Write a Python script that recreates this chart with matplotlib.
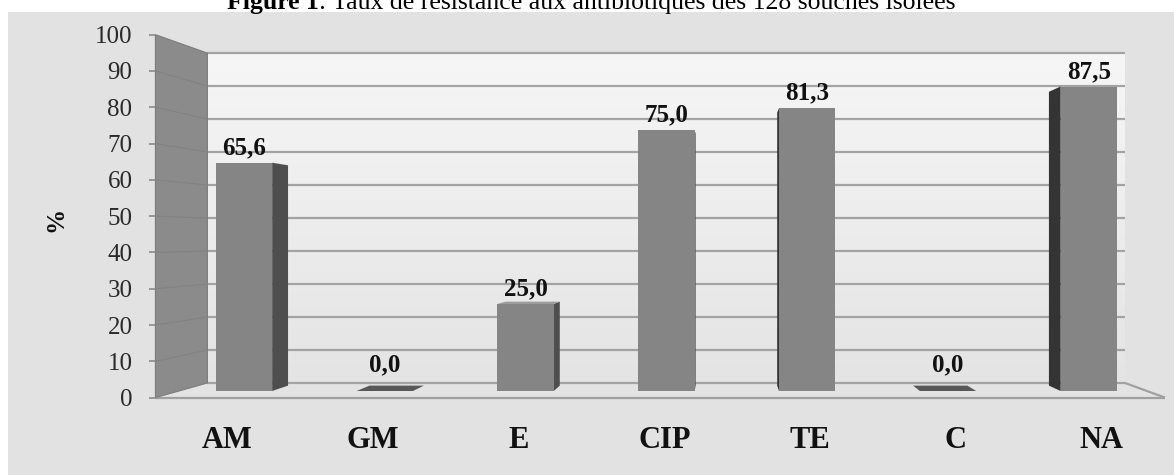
import matplotlib
matplotlib.use("Agg")
import matplotlib.pyplot as plt
from matplotlib.patches import Polygon, Rectangle
from matplotlib.colors import LinearSegmentedColormap
import numpy as np

# ---- data -------------------------------------------------------------
categories = ["AM", "GM", "E", "CIP", "TE", "C", "NA"]
resistance = [65.6, 0.0, 25.0, 75.0, 81.3, 0.0, 87.5]
y_ticks = [0, 10, 20, 30, 40, 50, 60, 70, 80, 90, 100]

title_bold = "Figure 1"
title_rest = ": Taux de résistance aux antibiotiques des 128 souches isolées"
y_label = "%"

# ---- layout -----------------------------------------------------------
W, H, DPI = 1174, 475, 100
SERIF = ["Liberation Serif", "DejaVu Serif"]

# bar plane: one category step = 140.8 px, one percent = 3.48 px
X0_PX, X_STEP = 244.0, 140.8
Y0_PX, Y_STEP = 391.0, 3.48

# pseudo-3D: every depth plane is a uniform scaling about a vanishing point
VX, VY = 3.423, 44.25
S_BACK, S_FRONT = 0.948, 1.043
S_BAR_BACK = 0.965
S_LABEL = 1.035
X_LEFT, X_RIGHT = -0.462, 6.413
Y_TOP = 100
BAR_HALF = 0.2
CAT_Y = (Y0_PX - 441) / Y_STEP


def proj(x, y, s):
    x = np.asarray(x, float)
    y = np.asarray(y, float)
    return VX + s * (x - VX), VY + s * (y - VY)


def pt(x, y, s):
    px, py = proj(x, y, s)
    return (float(px), float(py))


fig = plt.figure(figsize=(W / DPI, H / DPI), dpi=DPI)
fig.patch.set_facecolor("white")
ax = fig.add_axes([0, 0, 1, 1])
ax.set_axis_off()

# grey chart panel
ax.add_patch(Rectangle((8 / W, 0), 1 - 8 / W, (H - 12) / H,
                       transform=fig.transFigure, fc="#e2e2e2", ec="none",
                       zorder=-10))

# back wall with a soft vertical gradient
bx0, by0 = proj(X_LEFT, 0, S_BACK)
bx1, by1 = proj(X_RIGHT, Y_TOP, S_BACK)
grad = np.linspace(0, 1, 256).reshape(-1, 1)
wall_cmap = LinearSegmentedColormap.from_list("wall", ["#e4e4e4", "#f6f6f6"])
ax.imshow(grad, extent=(float(bx0), float(bx1), float(by0), float(by1)),
          origin="lower", cmap=wall_cmap, aspect="auto", zorder=0,
          interpolation="bilinear")

# floor
floor = [pt(X_LEFT, 0, S_FRONT), pt(X_RIGHT, 0, S_FRONT),
         pt(X_RIGHT, 0, S_BACK), pt(X_LEFT, 0, S_BACK)]
ax.add_patch(Polygon(floor, closed=True, fc="#e3e3e3", ec="none", zorder=0.8))

# gridlines on the back wall
for t in y_ticks:
    gx, gy = proj([X_LEFT, X_RIGHT], [t, t], S_BACK)
    ax.plot(gx, gy, color="#a3a3a3", lw=1.6, zorder=1, solid_capstyle="butt")

# floor edges
fx, fy = proj([X_LEFT, X_RIGHT], [0, 0], S_FRONT)
ax.plot(fx, fy, color="#a0a0a0", lw=1.6, zorder=1, solid_capstyle="butt")
rx, ry = proj([X_RIGHT, X_RIGHT], [0, 0], [S_BACK, S_FRONT])
ax.plot(rx, ry, color="#a0a0a0", lw=1.6, zorder=1, solid_capstyle="butt")

# left wall
wall = [pt(X_LEFT, 0, S_FRONT), pt(X_LEFT, Y_TOP, S_FRONT),
        pt(X_LEFT, Y_TOP, S_BACK), pt(X_LEFT, 0, S_BACK)]
ax.add_patch(Polygon(wall, closed=True, fc="#8b8b8b", ec="#7c7c7c", lw=0.8,
                     zorder=2))
for t in y_ticks[1:-1]:
    wx, wy = proj([X_LEFT, X_LEFT], [t, t], [S_FRONT, S_BACK])
    ax.plot(wx, wy, color="#828282", lw=0.8, zorder=2.1)

# bars: side faces, top faces, then front faces
x = np.arange(len(categories))
vals = np.array(resistance, dtype=float)
for xi, v in zip(x, vals):
    left, right = xi - BAR_HALF, xi + BAR_HALF
    if right < VX:
        edge, side_col = right, "#4e4e4e"
    elif left > VX:
        edge, side_col = left, "#343434"
    else:
        edge = None
    if edge is not None and v > 0:
        side = [pt(edge, 0, 1), pt(edge, v, 1),
                pt(edge, v, S_BAR_BACK), pt(edge, 0, S_BAR_BACK)]
        ax.add_patch(Polygon(side, closed=True, fc=side_col, ec="none",
                             zorder=3))
    if v < VY:
        top = [pt(left, v, 1), pt(right, v, 1),
               pt(right, v, S_BAR_BACK), pt(left, v, S_BAR_BACK)]
        top_col = "#585858" if v == 0 else "#9c9c9c"
        ax.add_patch(Polygon(top, closed=True, fc=top_col, ec="none",
                             zorder=3))

ax.bar(x, vals, width=2 * BAR_HALF, color="#858585", zorder=4)

# value labels
for xi, v in zip(x, vals):
    off = 26 if v == 0 else 15
    ax.annotate(f"{v:.1f}".replace(".", ","), (xi, v), xytext=(0, off),
                textcoords="offset pixels", ha="center", va="center",
                fontsize=18, fontweight="bold", family=SERIF,
                color="#111111", zorder=6)

# category labels on the front plane
lx, _ = proj(x, np.zeros(len(x)), S_LABEL)
for xx, c in zip(lx, categories):
    ax.text(float(xx), CAT_Y, c, ha="center", va="center", fontsize=22,
            fontweight="bold", family=SERIF, color="#111111")

# value axis: ticks and labels on the front edge of the left wall
tx, ty = proj(np.full(len(y_ticks), X_LEFT), y_ticks, S_FRONT)
ax.plot(tx, ty, ls="none", marker=0, ms=4.5, mew=1.2, color="#8a8a8a",
        zorder=5)
for xx, yy, t in zip(tx, ty, y_ticks):
    ax.annotate(str(t), (float(xx), float(yy)), xytext=(-23, 0),
                textcoords="offset pixels", ha="right", va="center_baseline",
                fontsize=18, family=SERIF, color="#2a2a2a")

fig.text(56 / W, 1 - 219 / H, y_label, rotation=90, ha="center", va="center",
         fontsize=18, fontweight="bold", family=SERIF, color="#111111")

# title (bold figure number followed by regular text)
t1 = fig.text(227 / W, 1 - 8.5 / H, title_bold, fontsize=18.5,
              fontweight="bold", family=SERIF, va="baseline", ha="left")
ax.annotate(title_rest, xy=(1, 0), xycoords=t1, va="bottom", ha="left",
            fontsize=18.5, family=SERIF, annotation_clip=False)

ax.set_xlim(-X0_PX / X_STEP, (W - X0_PX) / X_STEP)
ax.set_ylim((Y0_PX - H) / Y_STEP, Y0_PX / Y_STEP)

fig.savefig("out.png", dpi=DPI)
